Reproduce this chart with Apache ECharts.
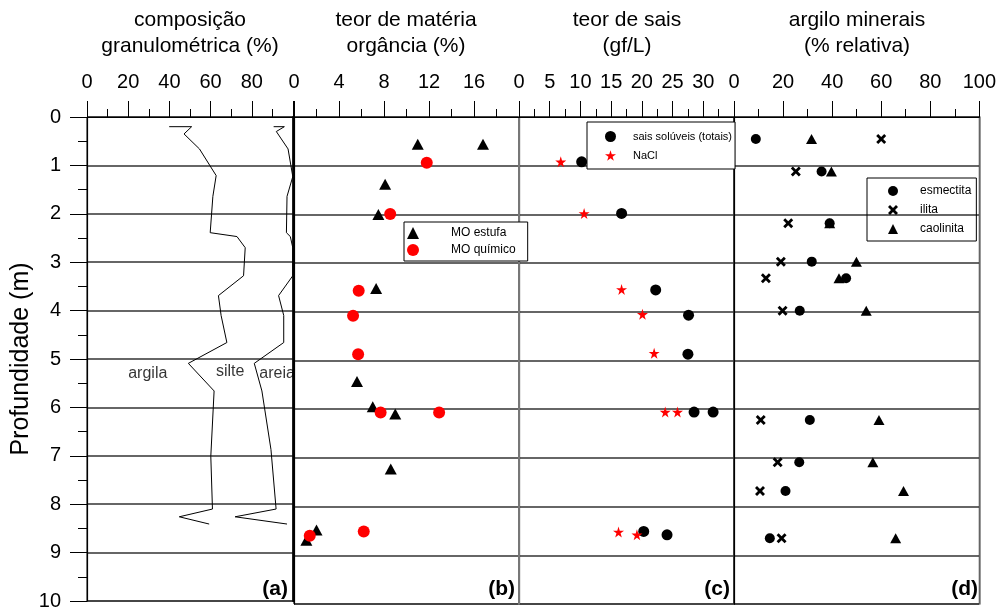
<!DOCTYPE html>
<html><head><meta charset="utf-8">
<script src="https://cdn.jsdelivr.net/npm/echarts/dist/echarts.min.js"></script>
<style>html,body{margin:0;padding:0;background:#fff}#c{width:999px;height:611px}</style>
</head><body><div id="c"></div>
<script>
// ---------- DATA ----------
// (a) composição granulométrica: boundary lines (cumulative %)
const argilaX     = [39.9, 50.8, 47.1, 54.6, 62.7, 61.1, 59.8, 72.8, 76.8, 76.0, 63.8, 65.1, 67.9, 49.2, 61.7, 60.1, 60.9, 44.8, 59.3];
const argilaDepth = [0.20, 0.20, 0.35, 0.66, 1.21, 1.64, 2.39, 2.47, 2.70, 3.28, 3.69, 4.10, 4.66, 5.09, 5.66, 7.01, 8.10, 8.26, 8.41];
const silteX      = [90.6, 95.8, 91.9, 97.6, 99.9, 97.1, 96.8, 98.7, 99.9, 99.9, 93.0, 95.5, 95.5, 81.2, 84.9, 89.3, 91.8, 71.9, 97.1];
const silteDepth  = [0.20, 0.20, 0.30, 0.66, 1.23, 1.64, 2.39, 2.47, 2.70, 3.28, 3.69, 4.10, 4.66, 5.09, 5.66, 6.87, 8.10, 8.26, 8.41];
const fractionNames = ['argila', 'silte', 'areia'];
const fractionLabelX = [29.5, 69.5, 92.3];
const fractionLabelDepth = [5.3, 5.26, 5.3];

// (b) teor de matéria orgânica (%)
const moEstufaX      = [11.0, 16.8, 8.1, 7.5, 7.3, 5.6, 7.0, 9.0, 8.6, 2.0, 1.1];
const moEstufaDepth  = [0.56, 0.56, 1.38, 2.00, 3.52, 5.43, 5.95, 6.10, 7.23, 8.48, 8.69];
const moQuimicoX     = [11.8, 8.55, 5.75, 5.25, 5.7, 7.7, 12.9, 6.2, 1.4];
const moQuimicoDepth = [0.94, 1.99, 3.57, 4.08, 4.87, 6.07, 6.07, 8.51, 8.60];

// (c) teor de sais (gf/L)
const saisX      = [10.2, 16.7, 22.25, 27.6, 27.5, 28.5, 31.6, 20.3, 24.1];
const saisDepth  = [0.92, 1.98, 3.55, 4.07, 4.87, 6.06, 6.06, 8.51, 8.58];
const naclX      = [6.8, 10.6, 16.7, 20.1, 22.0, 23.8, 25.8, 16.2, 19.2];
const naclDepth  = [0.92, 1.98, 3.54, 4.05, 4.85, 6.06, 6.06, 8.52, 8.58];

// (d) argilo minerais (% relativa)
const argDepth    = [0.45, 1.12, 2.18, 2.97, 3.31, 3.98, 6.22, 7.09, 7.68, 8.65];
const esmectitaX  = [8.9, 35.7, 39.0, 31.7, 45.7, 26.8, 30.9, 26.6, 21.0, 14.6];
const ilitaX      = [60.0, 25.2, 22.1, 19.1, 13.0, 19.8, 10.9, 17.8, 10.6, 19.4];
const caolinitaX  = [31.6, 39.7, 39.0, 49.9, 42.8, 53.9, 59.1, 56.6, 69.1, 65.9];

// axes
const xMax  = [100, 20, 35, 100];
const xStep = [20, 4, 5, 20];
const depthMax = 10, depthStep = 1;
const panelTitles = ['composição\ngranulométrica (%)', 'teor de matéria\norgância (%)', 'teor de sais\n(gf/L)', 'argilo minerais\n(% relativa)'];
const panelTags = ['(a)', '(b)', '(c)', '(d)'];

// ---------- CHART ----------
const FONT = '"Liberation Sans", Arial, Helvetica, sans-serif';
const zip = (xs, ys) => xs.map((x, i) => [x, ys[i]]);

const gridBoxes = [
  {left: 87,  width: 206},
  {left: 294, width: 225},
  {left: 519, width: 215},
  {left: 734, width: 246}
];
const TOP = 117, H = 487;
const rightEdge = [{c:'#000', w:2.5}, {c:'#777', w:2}, {c:'#000', w:1}, {c:'#777', w:1.5}];

const grid = gridBoxes.map(g => ({left: g.left, top: TOP, width: g.width, height: H,
  show: true, borderColor: '#000', borderWidth: 1, backgroundColor: 'transparent'}));

const xAxis = xMax.map((m, i) => ({
  gridIndex: i, type: 'value', position: 'top', min: 0, max: m, interval: xStep[i],
  axisLine: {show: true, lineStyle: {color: '#000', width: 1}},
  axisTick: {show: true, length: 16, lineStyle: {color: '#000', width: 1}},
  minorTick: {show: true, splitNumber: 2, length: 8, lineStyle: {color: '#000', width: 1}},
  axisLabel: {fontSize: 20, color: '#000', margin: 25, fontFamily: FONT, showMaxLabel: i === 3, showMinLabel: true},
  splitLine: {show: false}
}));

const yAxis = [];
for (let i = 0; i < 4; i++) {
  yAxis.push({
    gridIndex: i, type: 'value', inverse: true, min: 0, max: depthMax, interval: depthStep,
    axisLine: {show: true, lineStyle: {color: '#000', width: 1.2}},
    axisTick: {show: i === 0, length: 17, lineStyle: {color: '#000', width: 1}},
    minorTick: {show: i === 0, splitNumber: 2, length: 9, lineStyle: {color: '#000', width: 1}},
    axisLabel: {show: i === 0, fontSize: 20, color: '#000', margin: 26, fontFamily: FONT, padding: [4, 0, 0, 0]},
    splitLine: {show: true, lineStyle: {color: '#333', width: 1.5}},
    name: i === 0 ? 'Profundidade (m)' : '', nameLocation: 'middle', nameGap: 53,
    nameTextStyle: {fontSize: 25, color: '#000', fontFamily: FONT}
  });
}
for (let i = 0; i < 4; i++) {
  yAxis.push({
    gridIndex: i, type: 'value', position: 'right', inverse: true, min: 0, max: depthMax,
    axisLine: {show: true, lineStyle: {color: rightEdge[i].c, width: rightEdge[i].w}},
    axisTick: {show: false}, axisLabel: {show: false}, splitLine: {show: false}
  });
}

const STAR = 'path://M50,0 L61,35 L98,35 L68,57 L79,91 L50,70 L21,91 L32,57 L2,35 L39,35 Z';
const CROSS = 'path://M0,2 L2,0 L5,3 L8,0 L10,2 L7,5 L10,8 L8,10 L5,7 L2,10 L0,8 L3,5 Z';
const BLACK = {color: '#000', opacity: 1};
const RED = {color: '#ff0000', opacity: 1};

const series = [
  {type: 'line', name: 'argila|silte', xAxisIndex: 0, yAxisIndex: 0, data: zip(argilaX, argilaDepth),
   showSymbol: false, symbol: 'none', lineStyle: {color: '#000', width: 1}, silent: true},
  {type: 'line', name: 'silte|areia', xAxisIndex: 0, yAxisIndex: 0, data: zip(silteX, silteDepth),
   showSymbol: false, symbol: 'none', lineStyle: {color: '#000', width: 1}, silent: true},
  {type: 'scatter', name: 'frações', xAxisIndex: 0, yAxisIndex: 0, symbolSize: 0,
   data: fractionNames.map((n, i) => ({name: n, value: [fractionLabelX[i], fractionLabelDepth[i]]})),
   label: {show: true, position: 'inside', formatter: p => p.name, fontSize: 16, color: '#000', fontFamily: FONT}},

  {type: 'scatter', name: 'MO estufa', xAxisIndex: 1, yAxisIndex: 1, data: zip(moEstufaX, moEstufaDepth),
   symbol: 'triangle', symbolSize: [12, 11], itemStyle: BLACK},
  {type: 'scatter', name: 'MO químico', xAxisIndex: 1, yAxisIndex: 1, data: zip(moQuimicoX, moQuimicoDepth),
   symbol: 'circle', symbolSize: 12, itemStyle: RED},

  {type: 'scatter', name: 'sais solúveis (totais)', xAxisIndex: 2, yAxisIndex: 2, data: zip(saisX, saisDepth),
   symbol: 'circle', symbolSize: 11, itemStyle: BLACK},
  {type: 'scatter', name: 'NaCl', xAxisIndex: 2, yAxisIndex: 2, data: zip(naclX, naclDepth),
   symbol: STAR, symbolSize: 11, itemStyle: RED},

  {type: 'scatter', name: 'caolinita', xAxisIndex: 3, yAxisIndex: 3, data: zip(caolinitaX, argDepth),
   symbol: 'triangle', symbolSize: [11, 10], itemStyle: BLACK},
  {type: 'scatter', name: 'ilita', xAxisIndex: 3, yAxisIndex: 3, data: zip(ilitaX, argDepth),
   symbol: CROSS, symbolSize: 10, itemStyle: BLACK},
  {type: 'scatter', name: 'esmectita', xAxisIndex: 3, yAxisIndex: 3, data: zip(esmectitaX, argDepth),
   symbol: 'circle', symbolSize: 10, itemStyle: BLACK}
];

const legendBase = {orient: 'vertical', borderColor: '#000', borderWidth: 1,
  borderRadius: 0, selectedMode: false, inactiveColor: '#000'};
const legend = [
  Object.assign({}, legendBase, {data: ['MO estufa', 'MO químico'], left: 404, top: 222, backgroundColor: '#fff',
    padding: [5, 12, 5, 3], itemWidth: 12, itemHeight: 12, itemGap: 5,
    textStyle: {fontSize: 12, color: '#000', fontFamily: FONT, padding: [0, 0, 0, 27]}}),
  Object.assign({}, legendBase, {data: ['sais solúveis (totais)', 'NaCl'], left: 587, top: 122, backgroundColor: '#fff',
    padding: [9, 3, 8, 18], itemWidth: 11, itemHeight: 11, itemGap: 8,
    textStyle: {fontSize: 11, color: '#000', fontFamily: FONT, padding: [0, 0, 0, 12]}}),
  Object.assign({}, legendBase, {data: ['esmectita', 'ilita', 'caolinita'], left: 867, top: 178, backgroundColor: 'transparent',
    padding: [7, 5, 6, 21], itemWidth: 10, itemHeight: 10, itemGap: 7,
    textStyle: {fontSize: 12, color: '#000', fontFamily: FONT, padding: [0, 0, 0, 17]}})
];

const titleCenters = [190, 406, 627, 857];
const tagRights = [288, 515, 730, 978];
const graphic = [];
panelTitles.forEach((t, i) => graphic.push({type: 'text', x: titleCenters[i], y: 7, silent: true,
  style: {text: t, align: 'center', verticalAlign: 'top', fontSize: 21, lineHeight: 26, fontFamily: FONT, fill: '#000'}}));
panelTags.forEach((t, i) => graphic.push({type: 'text', x: tagRights[i], y: 589, silent: true,
  style: {text: t, align: 'right', verticalAlign: 'middle', fontSize: 21, fontWeight: 'bold', fontFamily: FONT, fill: '#000'}}));

const chart = echarts.init(document.getElementById('c'), null, {renderer: 'canvas'});
chart.setOption({
  animation: false,
  backgroundColor: '#fff',
  textStyle: {fontFamily: FONT},
  grid, xAxis, yAxis, series, legend, graphic
});
</script></body></html>
